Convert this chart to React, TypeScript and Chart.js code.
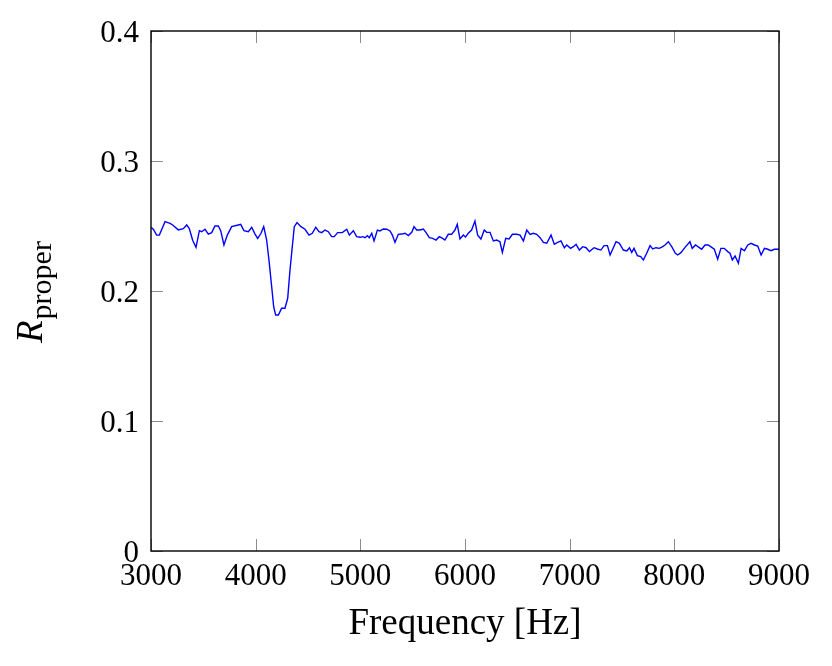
import React, { useEffect, useRef } from 'react';
import { Chart, registerables } from 'chart.js';

Chart.register(...registerables);

// Frequency samples [Hz]
const frequencies = [
  3000, 3022, 3054, 3080, 3134, 3182, 3207, 3261, 3309, 3341, 3366, 3398, 3430, 3462, 3484, 3516,
  3548, 3580, 3611, 3643, 3666, 3697, 3729, 3771, 3834, 3857, 3888, 3930, 3962, 3994, 4019, 4051,
  4077, 4105, 4127, 4153, 4172, 4191, 4217, 4248, 4280, 4306, 4328, 4350, 4369, 4395, 4433, 4471,
  4510, 4541, 4574, 4605, 4631, 4662, 4694, 4726, 4751, 4783, 4828, 4870, 4895, 4933, 4965, 5000,
  5023, 5045, 5067, 5086, 5109, 5131, 5163, 5188, 5220, 5252, 5284, 5306, 5331, 5363, 5395, 5427,
  5459, 5491, 5513, 5538, 5570, 5602, 5627, 5659, 5691, 5723, 5754, 5786, 5808, 5840, 5872, 5904,
  5926, 5952, 5984, 6005, 6031, 6063, 6095, 6121, 6152, 6184, 6207, 6239, 6271, 6303, 6334, 6357,
  6389, 6421, 6453, 6494, 6526, 6558, 6590, 6622, 6653, 6685, 6717, 6749, 6781, 6822, 6853, 6885,
  6917, 6949, 6972, 7008, 7035, 7061, 7093, 7125, 7157, 7188, 7233, 7265, 7298, 7329, 7361, 7386,
  7412, 7443, 7475, 7513, 7546, 7571, 7593, 7615, 7647, 7679, 7704, 7736, 7768, 7793, 7825, 7857,
  7889, 7911, 7943, 7975, 8010, 8032, 8063, 8102, 8149, 8171, 8203, 8235, 8261, 8293, 8324, 8357,
  8382, 8414, 8445, 8477, 8510, 8532, 8554, 8580, 8612, 8638, 8670, 8702, 8733, 8765, 8797, 8829,
  8861, 8893, 8924, 8956, 9000,
];

// R_proper values
const rProper = [
  0.249, 0.2475, 0.243, 0.243, 0.2533, 0.252, 0.2508, 0.247, 0.248, 0.2508, 0.248, 0.239, 0.2336, 0.2464, 0.2456, 0.2475,
  0.2438, 0.2449, 0.25, 0.25, 0.2464, 0.2354, 0.243, 0.2495, 0.2508, 0.2513, 0.2464, 0.2456, 0.249, 0.2438, 0.2405, 0.2444,
  0.2495, 0.2392, 0.2238, 0.2033, 0.1879, 0.1815, 0.1815, 0.1867, 0.1867, 0.1944, 0.2162, 0.2341, 0.2495, 0.2526, 0.2495, 0.2475,
  0.243, 0.2444, 0.249, 0.2456, 0.2449, 0.2469, 0.2456, 0.2418, 0.2418, 0.2449, 0.2449, 0.2475, 0.243, 0.2464, 0.2418, 0.2413,
  0.2418, 0.241, 0.2426, 0.241, 0.2444, 0.2385, 0.2469, 0.2462, 0.2477, 0.2475, 0.2462, 0.243, 0.2374, 0.2436, 0.2438, 0.2444,
  0.2426, 0.2451, 0.2495, 0.2469, 0.2469, 0.2477, 0.2451, 0.241, 0.2405, 0.2392, 0.2418, 0.2405, 0.2392, 0.2436, 0.2436, 0.2469,
  0.2513, 0.24, 0.243, 0.2415, 0.2444, 0.2469, 0.2538, 0.243, 0.24, 0.2469, 0.2451, 0.2451, 0.2385, 0.2392, 0.2379, 0.2297,
  0.2405, 0.24, 0.2436, 0.2436, 0.243, 0.2385, 0.2469, 0.2436, 0.2444, 0.2436, 0.241, 0.2374, 0.2367, 0.243, 0.2359, 0.2374,
  0.2385, 0.2333, 0.2354, 0.2328, 0.2341, 0.2359, 0.2315, 0.2341, 0.2333, 0.2303, 0.2333, 0.2323, 0.2315, 0.2349, 0.2349, 0.2277,
  0.2323, 0.2379, 0.2367, 0.2315, 0.2308, 0.2333, 0.2297, 0.2328, 0.2272, 0.2264, 0.2238, 0.229, 0.2349, 0.2323, 0.2333, 0.2328,
  0.2341, 0.2354, 0.2379, 0.2341, 0.229, 0.2277, 0.2295, 0.2336, 0.2379, 0.2328, 0.2354, 0.2336, 0.2321, 0.2354, 0.2354, 0.2336,
  0.2321, 0.2244, 0.2328, 0.2328, 0.2303, 0.229, 0.2238, 0.2269, 0.2213, 0.2328, 0.231, 0.2354, 0.2367, 0.2354, 0.2346, 0.2277,
  0.2328, 0.2321, 0.231, 0.2321, 0.2321,
];

const xTicks = [3000, 4000, 5000, 6000, 7000, 8000, 9000];
const xTickLabels = ['3000', '4000', '5000', '6000', '7000', '8000', '9000'];
const yTicks = [0, 0.1, 0.2, 0.3, 0.4];
const yTickLabels = ['0', '0.1', '0.2', '0.3', '0.4'];
const xTitle = 'Frequency [Hz]';
const yTitleMain = 'R';
const yTitleSub = 'proper';

const FONT = '"Liberation Serif", "Times New Roman", serif';

const pgfDecor = {
  id: 'pgfDecor',
  afterDraw(chart: any) {
    const { ctx, chartArea: a, scales } = chart;
    const xs = scales.x;
    const ys = scales.y;
    ctx.save();
    // inward tick marks on all four sides
    ctx.strokeStyle = 'rgba(0,0,0,0.45)';
    ctx.lineWidth = 1;
    const L = 12;
    ctx.beginPath();
    xTicks.forEach((v) => {
      const px = Math.round(xs.getPixelForValue(v)) + 0.5;
      ctx.moveTo(px, a.bottom);
      ctx.lineTo(px, a.bottom - L);
      ctx.moveTo(px, a.top);
      ctx.lineTo(px, a.top + L);
    });
    yTicks.forEach((v) => {
      const py = Math.round(ys.getPixelForValue(v)) + 0.5;
      ctx.moveTo(a.left, py);
      ctx.lineTo(a.left + L, py);
      ctx.moveTo(a.right, py);
      ctx.lineTo(a.right - L, py);
    });
    ctx.stroke();
    // frame
    ctx.strokeStyle = '#000';
    ctx.lineWidth = 1.4;
    ctx.strokeRect(a.left, a.top, a.right - a.left, a.bottom - a.top);
    // tick labels
    ctx.fillStyle = '#000';
    ctx.font = `31px ${FONT}`;
    ctx.textBaseline = 'alphabetic';
    ctx.textAlign = 'center';
    xTicks.forEach((v, i) => ctx.fillText(xTickLabels[i], xs.getPixelForValue(v), a.bottom + 34));
    ctx.textAlign = 'right';
    yTicks.forEach((v, i) => ctx.fillText(yTickLabels[i], a.left - 12, ys.getPixelForValue(v) + 11));
    // x title
    ctx.font = `37px ${FONT}`;
    ctx.textAlign = 'center';
    ctx.fillText(xTitle, (a.left + a.right) / 2, a.bottom + 83);
    // y title (rotated, R with subscript)
    ctx.translate(42, 343);
    ctx.rotate(-Math.PI / 2);
    ctx.textAlign = 'left';
    ctx.font = `italic 37px ${FONT}`;
    ctx.fillText(yTitleMain, 0, 0);
    const wR = ctx.measureText(yTitleMain).width;
    ctx.font = `30px ${FONT}`;
    ctx.fillText(yTitleSub, wR + 1, 9);
    ctx.restore();
  },
};

export default function App() {
  const canvasRef = useRef<HTMLCanvasElement | null>(null);

  useEffect(() => {
    if (!canvasRef.current) return;
    const chart = new Chart(canvasRef.current, {
      type: 'line',
      data: {
        datasets: [
          {
            data: frequencies.map((f, i) => ({ x: f, y: rProper[i] })),
            borderColor: '#0000ff',
            borderWidth: 1.4,
            pointRadius: 0,
            tension: 0,
            fill: false,
          },
        ],
      },
      options: {
        animation: false,
        responsive: true,
        maintainAspectRatio: false,
        layout: { padding: { left: 0, right: 53, top: 31, bottom: 0 } },
        plugins: { legend: { display: false }, tooltip: { enabled: false } },
        scales: {
          x: {
            type: 'linear',
            min: 3000,
            max: 9000,
            grid: { display: false },
            border: { display: false },
            ticks: { display: false, stepSize: 1000 },
            afterFit: (s: any) => {
              s.height = 115;
            },
          },
          y: {
            type: 'linear',
            min: 0,
            max: 0.4,
            grid: { display: false },
            border: { display: false },
            ticks: { display: false, stepSize: 0.1 },
            afterFit: (s: any) => {
              s.width = 151;
            },
          },
        },
      },
      plugins: [pgfDecor],
    });
    return () => chart.destroy();
  }, []);

  return (
    <div style={{ position: 'fixed', left: 0, top: 0, width: 832, height: 666, background: '#fff' }}>
      <canvas ref={canvasRef} style={{ display: 'block' }} />
    </div>
  );
}
